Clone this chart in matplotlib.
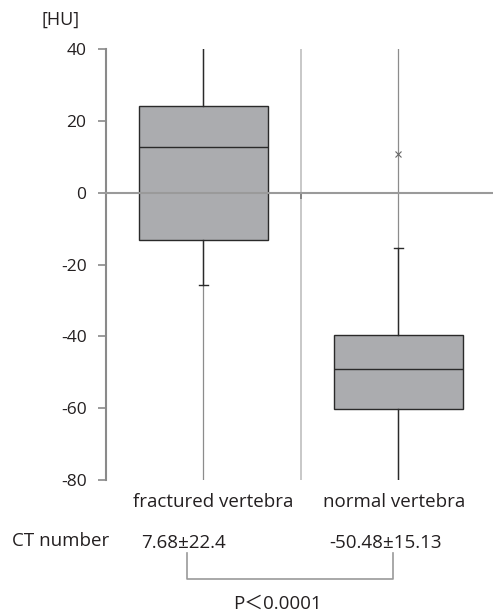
import matplotlib.pyplot as plt
from matplotlib.lines import Line2D

plt.rcParams['font.family'] = ['Open Sans', 'Noto Sans CJK JP', 'DejaVu Sans']

categories = ['fractured vertebra', 'normal vertebra']
q1 = [-13.3, -60.3]
medians = [12.8, -49.2]
q3 = [24.1, -39.7]
whisker_lo = [-25.6, -85.0]
whisker_hi = [46.0, -15.3]
outliers = [[], [10.8]]
ct_values = ['7.68±22.4', '-50.48±15.13']
p_text = 'P＜0.0001'
yticks = [40, 20, 0, -20, -40, -60, -80]

W, H = 493, 615


def fx(px):
    return px / W


def fy(py):
    return 1 - py / H


def getChart():
    fig = plt.figure(figsize=(W / 100, H / 100), dpi=100)
    ax = fig.add_axes([fx(106), fy(480), 1 - fx(106), fy(49) - fy(480)])

    pos = [1, 2]
    # vertical guide lines behind the boxes
    for x in pos:
        ax.axvline(x, color='#8c8c8c', lw=0.9, zorder=0)
    ax.axvline(1.5, color='#c4c4c4', lw=1.3, zorder=0)

    stats = []
    for i in range(len(categories)):
        stats.append(dict(med=medians[i], q1=q1[i], q3=q3[i],
                          whislo=whisker_lo[i], whishi=whisker_hi[i],
                          fliers=outliers[i], label=categories[i]))
    ax.bxp(stats, positions=pos, widths=0.66, patch_artist=True,
           capwidths=0.045,
           boxprops=dict(facecolor='#abacaf', edgecolor='#2a2a2a', lw=1.0),
           medianprops=dict(color='#2a2a2a', lw=1.0),
           whiskerprops=dict(color='#2a2a2a', lw=1.0),
           capprops=dict(color='#2a2a2a', lw=1.0),
           flierprops=dict(marker='x', markersize=5, markeredgecolor='#666666',
                           markeredgewidth=0.8))

    ax.set_xlim(0.5, 2.485)
    ax.set_ylim(-80, 40)
    ax.set_yticks(yticks)
    ax.set_yticklabels([str(t) for t in yticks])
    ax.tick_params(axis='y', direction='out', length=6, width=1.2,
                   color='#8a8a8a', labelsize=12.5, labelcolor='#231f20', pad=8)

    # x axis drawn at y = 0
    ax.spines['bottom'].set_position(('data', 0))
    ax.spines['bottom'].set_color('#9a9a9a')
    ax.spines['bottom'].set_linewidth(1.5)
    ax.set_xticks([1.5])
    ax.set_xticklabels([''])
    ax.tick_params(axis='x', direction='out', length=4, width=1.2, color='#777777')
    ax.spines['left'].set_color('#8a8a8a')
    ax.spines['left'].set_linewidth(1.5)
    ax.spines['top'].set_visible(False)
    ax.spines['right'].set_visible(False)

    # labels around the plot
    fig.text(fx(61), fy(20), '[HU]', ha='center', va='center', fontsize=13, color='#231f20')
    for x, dx, name in zip(pos, [0.05, -0.02], categories):
        ax.text(x + dx, -86, name, ha='center', va='center', fontsize=13.5,
                color='#231f20', clip_on=False)
    fig.text(fx(12), fy(541), 'CT number', ha='left', va='center', fontsize=13.5, color='#231f20')
    fig.text(fx(184), fy(543), ct_values[0], ha='center', va='center', fontsize=13.5, color='#231f20')
    fig.text(fx(386), fy(543), ct_values[1], ha='center', va='center', fontsize=13.5, color='#231f20')

    # significance bracket
    xs = [fx(187), fx(187), fx(393), fx(393)]
    ys = [fy(553), fy(579), fy(579), fy(553)]
    fig.add_artist(Line2D(xs, ys, color='#999999', lw=1.2))
    fig.text(fx(277), fy(604), p_text, ha='center', va='center', fontsize=13.5, color='#231f20')

    fig.savefig('out.png', dpi=100)


def main():
    getChart()


if __name__ == '__main__':
    main()
